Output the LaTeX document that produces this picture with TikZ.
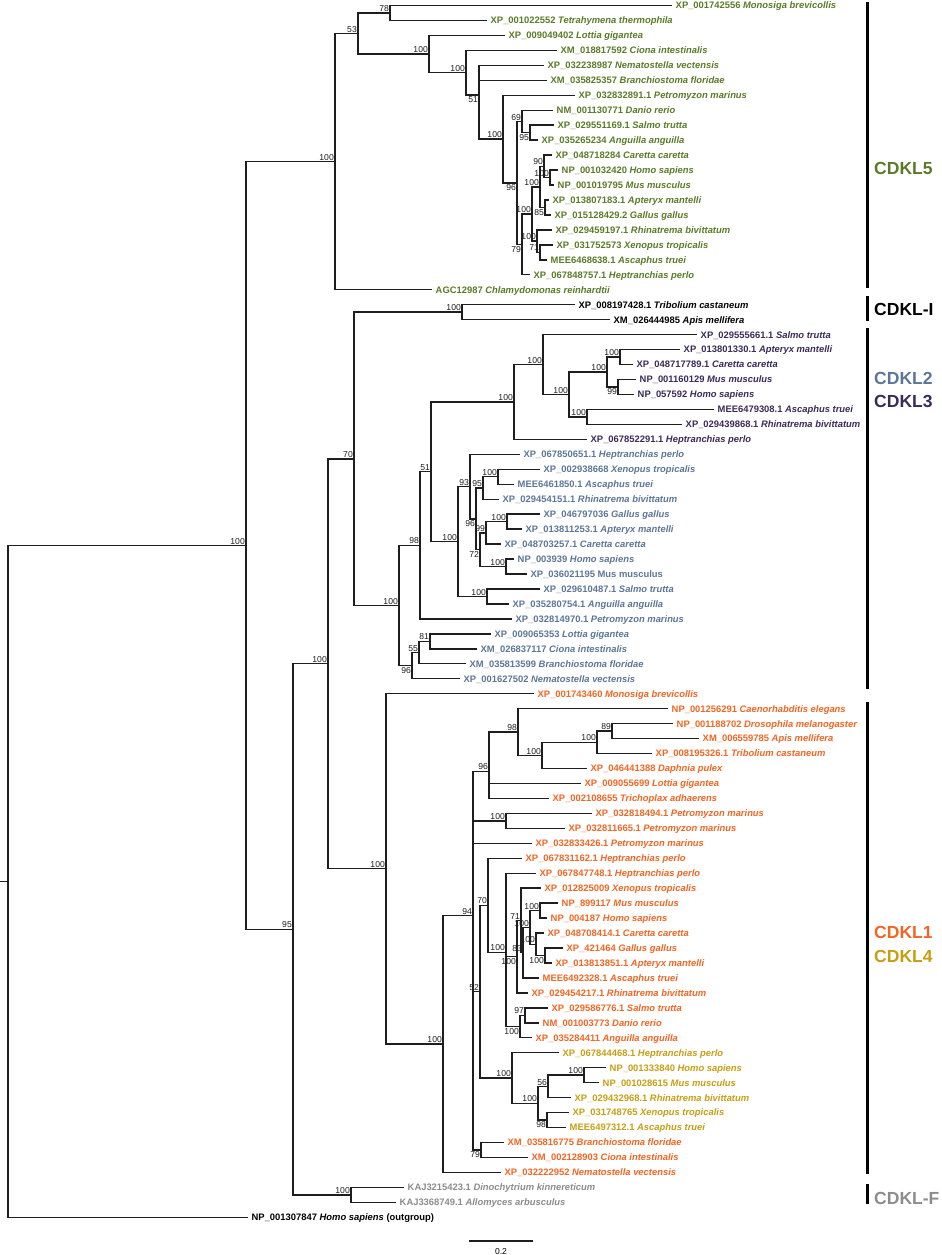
\documentclass[tikz,border=0pt]{standalone}
\usepackage{fontspec}
\setmainfont{Liberation Sans}
\definecolor{colfive}{RGB}{90,122,40}
\definecolor{colthree}{RGB}{58,42,88}
\definecolor{coltwo}{RGB}{92,118,150}
\definecolor{colone}{RGB}{242,101,34}
\definecolor{colfour}{RGB}{198,158,18}
\definecolor{colF}{RGB}{140,140,140}
\definecolor{branch}{RGB}{30,30,30}
\begin{document}
\begin{tikzpicture}[x=1pt, y=-14.96pt,
    br/.style={draw=branch, line width=1.4pt, line cap=rect},
    leaf/.style={anchor=west, inner xsep=4.5pt, inner ysep=0pt, text height=6.8pt, text depth=0pt,
      font=\fontsize{9.4}{10}\selectfont\bfseries},
    l5/.style={leaf, text=colfive}, lI/.style={leaf, text=black},
    l3/.style={leaf, text=colthree}, l2/.style={leaf, text=coltwo},
    l1/.style={leaf, text=colone}, l4/.style={leaf, text=colfour},
    lF/.style={leaf, text=colF}, lO/.style={leaf, text=black},
    bsa/.style={anchor=south east, inner xsep=1pt, inner ysep=1.2pt, text height=6.2pt, text depth=0pt,
      font=\fontsize{8.6}{9}\selectfont, text=branch},
    bsb/.style={bsa, anchor=north east},
    famb/.style={draw=black, line width=3pt},
    fam/.style={anchor=west, inner sep=0pt, text height=12.6pt, text depth=0pt,
      font=\fontsize{17.5}{18}\selectfont\bfseries}]
\useasboundingbox (0,-0.3676) rectangle (941,83.52);

% leaves, one row each
% CDKL5
\node[l5] (r0) at (671,0) {XP\_001742556 \textit{Monosiga brevicollis}};
\node[l5] (r1) at (486,1) {XP\_001022552 \textit{Tetrahymena thermophila}};
\node[l5] (r2) at (504,2) {XP\_009049402 \textit{Lottia gigantea}};
\node[l5] (r3) at (556,3) {XM\_018817592 \textit{Ciona intestinalis}};
\node[l5] (r4) at (543,4) {XP\_032238987 \textit{Nematostella vectensis}};
\node[l5] (r5) at (546,5) {XM\_035825357 \textit{Branchiostoma floridae}};
\node[l5] (r6) at (574,6) {XP\_032832891.1 \textit{Petromyzon marinus}};
\node[l5] (r7) at (552,7) {NM\_001130771 \textit{Danio rerio}};
\node[l5] (r8) at (553,8) {XP\_029551169.1 \textit{Salmo trutta}};
\node[l5] (r9) at (537,9) {XP\_035265234 \textit{Anguilla anguilla}};
\node[l5] (r10) at (551,10) {XP\_048718284 \textit{Caretta caretta}};
\node[l5] (r11) at (557,11) {NP\_001032420 \textit{Homo sapiens}};
\node[l5] (r12) at (553,12) {NP\_001019795 \textit{Mus musculus}};
\node[l5] (r13) at (548,13) {XP\_013807183.1 \textit{Apteryx mantelli}};
\node[l5] (r14) at (550,14) {XP\_015128429.2 \textit{Gallus gallus}};
\node[l5] (r15) at (551,15) {XP\_029459197.1 \textit{Rhinatrema bivittatum}};
\node[l5] (r16) at (552,16) {XP\_031752573 \textit{Xenopus tropicalis}};
\node[l5] (r17) at (546,17) {MEE6468638.1 \textit{Ascaphus truei}};
\node[l5] (r18) at (529,18) {XP\_067848757.1 \textit{Heptranchias perlo}};
\node[l5] (r19) at (431,19) {AGC12987 \textit{Chlamydomonas reinhardtii}};
% CDKL-I
\node[lI] (r20) at (574,20) {XP\_008197428.1 \textit{Tribolium castaneum}};
\node[lI] (r21) at (609,21) {XM\_026444985 \textit{Apis mellifera}};
% CDKL3
\node[l3] (r22) at (696,22) {XP\_029555661.1 \textit{Salmo trutta}};
\node[l3] (r23) at (679,23) {XP\_013801330.1 \textit{Apteryx mantelli}};
\node[l3] (r24) at (632,24) {XP\_048717789.1 \textit{Caretta caretta}};
\node[l3] (r25) at (635,25) {NP\_001160129 \textit{Mus musculus}};
\node[l3] (r26) at (633,26) {NP\_057592 \textit{Homo sapiens}};
\node[l3] (r27) at (713,27) {MEE6479308.1 \textit{Ascaphus truei}};
\node[l3] (r28) at (681,28) {XP\_029439868.1 \textit{Rhinatrema bivittatum}};
\node[l3] (r29) at (586,29) {XP\_067852291.1 \textit{Heptranchias perlo}};
% CDKL2
\node[l2] (r30) at (519,30) {XP\_067850651.1 \textit{Heptranchias perlo}};
\node[l2] (r31) at (539,31) {XP\_002938668 \textit{Xenopus tropicalis}};
\node[l2] (r32) at (513,32) {MEE6461850.1 \textit{Ascaphus truei}};
\node[l2] (r33) at (498,33) {XP\_029454151.1 \textit{Rhinatrema bivittatum}};
\node[l2] (r34) at (539,34) {XP\_046797036 \textit{Gallus gallus}};
\node[l2] (r35) at (521,35) {XP\_013811253.1 \textit{Apteryx mantelli}};
\node[l2] (r36) at (500,36) {XP\_048703257.1 \textit{Caretta caretta}};
\node[l2] (r37) at (513,37) {NP\_003939 \textit{Homo sapiens}};
\node[l2] (r38) at (526,38) {XP\_036021195 Mus musculus};
\node[l2] (r39) at (539,39) {XP\_029610487.1 \textit{Salmo trutta}};
\node[l2] (r40) at (508,40) {XP\_035280754.1 \textit{Anguilla anguilla}};
\node[l2] (r41) at (511,41) {XP\_032814970.1 \textit{Petromyzon marinus}};
\node[l2] (r42) at (490,42) {XP\_009065353 \textit{Lottia gigantea}};
\node[l2] (r43) at (476,43) {XM\_026837117 \textit{Ciona intestinalis}};
\node[l2] (r44) at (465,44) {XM\_035813599 \textit{Branchiostoma floridae}};
\node[l2] (r45) at (459,45) {XP\_001627502 \textit{Nematostella vectensis}};
% CDKL1 and CDKL4
\node[l1] (r46) at (533,46) {XP\_001743460 \textit{Monosiga brevicollis}};
\node[l1] (r47) at (667,47) {NP\_001256291 \textit{Caenorhabditis elegans}};
\node[l1] (r48) at (672,48) {NP\_001188702 \textit{Drosophila melanogaster}};
\node[l1] (r49) at (698,49) {XM\_006559785 \textit{Apis mellifera}};
\node[l1] (r50) at (651,50) {XP\_008195326.1 \textit{Tribolium castaneum}};
\node[l1] (r51) at (586,51) {XP\_046441388 \textit{Daphnia pulex}};
\node[l1] (r52) at (580,52) {XP\_009055699 \textit{Lottia gigantea}};
\node[l1] (r53) at (548,53) {XP\_002108655 \textit{Trichoplax adhaerens}};
\node[l1] (r54) at (591,54) {XP\_032818494.1 \textit{Petromyzon marinus}};
\node[l1] (r55) at (564,55) {XP\_032811665.1 \textit{Petromyzon marinus}};
\node[l1] (r56) at (531,56) {XP\_032833426.1 \textit{Petromyzon marinus}};
\node[l1] (r57) at (521,57) {XP\_067831162.1 \textit{Heptranchias perlo}};
\node[l1] (r58) at (535,58) {XP\_067847748.1 \textit{Heptranchias perlo}};
\node[l1] (r59) at (540,59) {XP\_012825009 \textit{Xenopus tropicalis}};
\node[l1] (r60) at (557,60) {NP\_899117 \textit{Mus musculus}};
\node[l1] (r61) at (546,61) {NP\_004187 \textit{Homo sapiens}};
\node[l1] (r62) at (543,62) {XP\_048708414.1 \textit{Caretta caretta}};
\node[l1] (r63) at (562,63) {XP\_421464 \textit{Gallus gallus}};
\node[l1] (r64) at (551,64) {XP\_013813851.1 \textit{Apteryx mantelli}};
\node[l1] (r65) at (538,65) {MEE6492328.1 \textit{Ascaphus truei}};
\node[l1] (r66) at (527,66) {XP\_029454217.1 \textit{Rhinatrema bivittatum}};
\node[l1] (r67) at (547,67) {XP\_029586776.1 \textit{Salmo trutta}};
\node[l1] (r68) at (538,68) {NM\_001003773 \textit{Danio rerio}};
\node[l1] (r69) at (531,69) {XP\_035284411 \textit{Anguilla anguilla}};
\node[l4] (r70) at (558,70) {XP\_067844468.1 \textit{Heptranchias perlo}};
\node[l4] (r71) at (605,71) {NP\_001333840 \textit{Homo sapiens}};
\node[l4] (r72) at (598,72) {NP\_001028615 \textit{Mus musculus}};
\node[l4] (r73) at (570,73) {XP\_029432968.1 \textit{Rhinatrema bivittatum}};
\node[l4] (r74) at (568,74) {XP\_031748765 \textit{Xenopus tropicalis}};
\node[l4] (r75) at (565,75) {MEE6497312.1 \textit{Ascaphus truei}};
\node[l1] (r76) at (503,76) {XM\_035816775 \textit{Branchiostoma floridae}};
\node[l1] (r77) at (527,77) {XM\_002128903 \textit{Ciona intestinalis}};
\node[l1] (r78) at (500,78) {XP\_032222952 \textit{Nematostella vectensis}};
% CDKL-F and outgroup
\node[lF] (r79) at (403,79) {KAJ3215423.1 \textit{Dinochytrium kinnereticum}};
\node[lF] (r80) at (395,80) {KAJ3368749.1 \textit{Allomyces arbusculus}};
\node[lO] (r81) at (247,81) {NP\_001307847 \textit{Homo sapiens} (outgroup)};

% inner nodes: CDKL5
\coordinate (c5) at (335,10.44);
\coordinate (c5a) at (358,1.87);
\coordinate (c5b) at (390,0.5);
\coordinate (c5c) at (429,3.245);
\coordinate (c5d) at (466,4.49);
\coordinate (c5e) at (479,5.98);
\coordinate (c5f) at (503,8.93);
\coordinate (c5g) at (517,11.86);
\coordinate (c5h) at (522,7.75);
\coordinate (c5i) at (530,8.5);
\coordinate (c5j) at (522,15.97);
\coordinate (c5k) at (532,13.94);
\coordinate (c5l) at (540,12.125);
\coordinate (c5m) at (544,10.75);
\coordinate (c5n) at (550,11.5);
\coordinate (c5o) at (545,13.5);
\coordinate (c5p) at (537,15.75);
\coordinate (c5q) at (540,16.5);
% CDKL-I, CDKL3, CDKL2
\coordinate (ci) at (462,20.5);
\coordinate (e) at (354,30.30);
\coordinate (f) at (399,40.10);
\coordinate (g98) at (420,36.08);
\coordinate (g51) at (431,31.165);
\coordinate (c3) at (514,26.5);
\coordinate (c3a) at (543,24.0);
\coordinate (c3b) at (569,26.0);
\coordinate (c3c) at (607,24.5);
\coordinate (c3d) at (620,23.5);
\coordinate (c3e) at (618,25.5);
\coordinate (c3f) at (587,27.5);
\coordinate (c2) at (458,35.83);
\coordinate (c2a) at (470,32.156);
\coordinate (c2b) at (476,34.31);
\coordinate (c2c) at (483,32.25);
\coordinate (c2d) at (498,31.5);
\coordinate (c2e) at (480,36.375);
\coordinate (c2f) at (486,35.25);
\coordinate (c2g) at (507,34.5);
\coordinate (c2h) at (506,37.5);
\coordinate (c2i) at (487,39.5);
\coordinate (h96) at (412,44.125);
\coordinate (h55) at (419,43.25);
\coordinate (h81) at (430,42.5);
% CDKL1, CDKL4
\coordinate (k1) at (386,57.70);
\coordinate (k1a) at (443,69.41);
\coordinate (k1b) at (473,60.82);
\coordinate (k1c) at (489,51.19);
\coordinate (k1d) at (518,48.56);
\coordinate (k1e) at (542,50.125);
\coordinate (k1f) at (597,49.25);
\coordinate (k1g) at (612,48.5);
\coordinate (k1h) at (506,54.5);
\coordinate (k1i) at (480,65.91);
\coordinate (k1j) at (488,60.14);
\coordinate (k1k) at (506,63.28);
\coordinate (k1l) at (517,63.58);
\coordinate (k1m) at (521,61.16);
\coordinate (k1n) at (523,63.31);
\coordinate (k1o) at (530,61.625);
\coordinate (k1p) at (540,60.5);
\coordinate (k1q) at (536,62.75);
\coordinate (k1r) at (545,63.5);
\coordinate (k1s) at (520,68.25);
\coordinate (k1t) at (525,67.5);
\coordinate (k1u) at (481,76.5);
\coordinate (k4) at (512,71.69);
\coordinate (k4a) at (538,73.375);
\coordinate (k4b) at (548,72.25);
\coordinate (k4c) at (584,71.5);
\coordinate (k4d) at (547,74.5);
% backbone
\coordinate (a) at (246,36.10);
\coordinate (c) at (293,61.75);
\coordinate (d) at (328,44.0);
\coordinate (cf) at (351,79.5);
\coordinate (root) at (8,58.55);
\coordinate (stub) at (0,58.55);

% branches
\draw[br] (stub) -- (root);
\draw[br] (root) |- (a) (root) |- (r81.west);
\draw[br] (a) |- (c5) (a) |- (c);
\draw[br] (c) |- (d) (c) |- (cf);
\draw[br] (d) |- (e) (d) |- (k1);
\draw[br] (cf) |- (r79.west) (cf) |- (r80.west);

\draw[br] (c5) |- (c5a) (c5) |- (r19.west);
\draw[br] (c5a) |- (c5b) (c5a) |- (c5c);
\draw[br] (c5b) |- (r0.west) (c5b) |- (r1.west);
\draw[br] (c5c) |- (r2.west) (c5c) |- (c5d);
\draw[br] (c5d) |- (r3.west) (c5d) |- (c5e);
\draw[br] (c5e) |- (r4.west) (c5e) |- (r5.west) (c5e) |- (c5f);
\draw[br] (c5f) |- (r6.west) (c5f) |- (c5g);
\draw[br] (c5g) |- (c5h) (c5g) |- (c5j);
\draw[br] (c5h) |- (r7.west) (c5h) |- (c5i);
\draw[br] (c5i) |- (r8.west) (c5i) |- (r9.west);
\draw[br] (c5j) |- (c5k) (c5j) |- (r18.west);
\draw[br] (c5k) |- (c5l) (c5k) |- (c5p);
\draw[br] (c5l) |- (c5m) (c5l) |- (c5o);
\draw[br] (c5m) |- (r10.west) (c5m) |- (c5n);
\draw[br] (c5n) |- (r11.west) (c5n) |- (r12.west);
\draw[br] (c5o) |- (r13.west) (c5o) |- (r14.west);
\draw[br] (c5p) |- (r15.west) (c5p) |- (c5q);
\draw[br] (c5q) |- (r16.west) (c5q) |- (r17.west);

\draw[br] (e) |- (ci) (e) |- (f);
\draw[br] (ci) |- (r20.west) (ci) |- (r21.west);
\draw[br] (f) |- (g98) (f) |- (h96);
\draw[br] (g98) |- (g51) (g98) |- (r41.west);
\draw[br] (g51) |- (c3) (g51) |- (c2);
\draw[br] (c3) |- (c3a) (c3) |- (r29.west);
\draw[br] (c3a) |- (r22.west) (c3a) |- (c3b);
\draw[br] (c3b) |- (c3c) (c3b) |- (c3f);
\draw[br] (c3c) |- (c3d) (c3c) |- (c3e);
\draw[br] (c3d) |- (r23.west) (c3d) |- (r24.west);
\draw[br] (c3e) |- (r25.west) (c3e) |- (r26.west);
\draw[br] (c3f) |- (r27.west) (c3f) |- (r28.west);
\draw[br] (c2) |- (c2a) (c2) |- (c2i);
\draw[br] (c2a) |- (r30.west) (c2a) |- (c2b);
\draw[br] (c2b) |- (c2c) (c2b) |- (c2e);
\draw[br] (c2c) |- (c2d) (c2c) |- (r33.west);
\draw[br] (c2d) |- (r31.west) (c2d) |- (r32.west);
\draw[br] (c2e) |- (c2f) (c2e) |- (c2h);
\draw[br] (c2f) |- (c2g) (c2f) |- (r36.west);
\draw[br] (c2g) |- (r34.west) (c2g) |- (r35.west);
\draw[br] (c2h) |- (r37.west) (c2h) |- (r38.west);
\draw[br] (c2i) |- (r39.west) (c2i) |- (r40.west);
\draw[br] (h96) |- (h55) (h96) |- (r45.west);
\draw[br] (h55) |- (h81) (h55) |- (r44.west);
\draw[br] (h81) |- (r42.west) (h81) |- (r43.west);

\draw[br] (k1) |- (r46.west) (k1) |- (k1a);
\draw[br] (k1a) |- (k1b) (k1a) |- (r78.west);
\draw[br] (k1b) |- (k1c) (k1b) |- (k1h) (k1b) |- (r56.west) (k1b) |- (k1i) (k1b) |- (k1u);
\draw[br] (k1c) |- (k1d) (k1c) |- (r52.west) (k1c) |- (r53.west);
\draw[br] (k1d) |- (r47.west) (k1d) |- (k1e);
\draw[br] (k1e) |- (k1f) (k1e) |- (r51.west);
\draw[br] (k1f) |- (k1g) (k1f) |- (r50.west);
\draw[br] (k1g) |- (r48.west) (k1g) |- (r49.west);
\draw[br] (k1h) |- (r54.west) (k1h) |- (r55.west);
\draw[br] (k1i) |- (k1j) (k1i) |- (k4);
\draw[br] (k1j) |- (r57.west) (k1j) |- (k1k);
\draw[br] (k1k) |- (r58.west) (k1k) |- (k1l) (k1k) |- (k1s);
\draw[br] (k1l) |- (k1m) (k1l) |- (r66.west);
\draw[br] (k1m) |- (r59.west) (k1m) |- (k1n);
\draw[br] (k1n) |- (k1o) (k1n) |- (r65.west);
\draw[br] (k1o) |- (k1p) (k1o) |- (k1q);
\draw[br] (k1p) |- (r60.west) (k1p) |- (r61.west);
\draw[br] (k1q) |- (r62.west) (k1q) |- (k1r);
\draw[br] (k1r) |- (r63.west) (k1r) |- (r64.west);
\draw[br] (k1s) |- (k1t) (k1s) |- (r69.west);
\draw[br] (k1t) |- (r67.west) (k1t) |- (r68.west);
\draw[br] (k4) |- (r70.west) (k4) |- (k4a);
\draw[br] (k4a) |- (k4b) (k4a) |- (k4d);
\draw[br] (k4b) |- (k4c) (k4b) |- (r73.west);
\draw[br] (k4c) |- (r71.west) (k4c) |- (r72.west);
\draw[br] (k4d) |- (r74.west) (k4d) |- (r75.west);
\draw[br] (k1u) |- (r76.west) (k1u) |- (r77.west);

% bootstrap values
\node[bsa] (sa) at (a) {100};
\node[bsa] (sc) at (c) {95};
\node[bsa] (sd) at (d) {100};
\node[bsa] (scf) at (cf) {100};
\node[bsa] (s5) at (c5) {100};
\node[bsa] (s5a) at (c5a) {53};
\node[bsa] (s5b) at (c5b) {78};
\node[bsa] (s5c) at (c5c) {100};
\node[bsa] (s5d) at (c5d) {100};
\node[bsb] (s5e) at (c5e) {51};
\node[bsa] (s5f) at (c5f) {100};
\node[bsb] (s5g) at (c5g) {96};
\node[bsa] (s5h) at (c5h) {69};
\node[bsb] (s5i) at (c5i) {95};
\node[bsb] (s5j) at (c5j) {79};
\node[bsa] (s5k) at (c5k) {100};
\node[bsa] (s5l) at (c5l) {100};
\node[bsa] (s5m) at (c5m) {90};
\node[bsa] (s5n) at (c5n) {100};
\node[bsb] (s5o) at (c5o) {85};
\node[bsa] (s5p) at (c5p) {100};
\node[bsa] (s5q) at (c5q) {71};
\node[bsa] (si) at (ci) {100};
\node[bsa] (se) at (e) {70};
\node[bsa] (sf) at (f) {100};
\node[bsa] (sg98) at (g98) {98};
\node[bsa] (sg51) at (g51) {51};
\node[bsa] (s3) at (c3) {100};
\node[bsa] (s3a) at (c3a) {100};
\node[bsa] (s3b) at (c3b) {100};
\node[bsa] (s3c) at (c3c) {100};
\node[bsa] (s3d) at (c3d) {100};
\node[bsb] (s3e) at (c3e) {99};
\node[bsa] (s3f) at (c3f) {100};
\node[bsa] (s2) at (c2) {100};
\node[bsa] (s2a) at (c2a) {93};
\node[bsb] (s2b) at (c2b) {96};
\node[bsa] (s2c) at (c2c) {95};
\node[bsa] (s2d) at (c2d) {100};
\node[bsb] (s2e) at (c2e) {72};
\node[bsa] (s2f) at (c2f) {99};
\node[bsa] (s2g) at (c2g) {100};
\node[bsa] (s2h) at (c2h) {100};
\node[bsa] (s2i) at (c2i) {100};
\node[bsb] (sh96) at (h96) {96};
\node[bsa] (sh55) at (h55) {55};
\node[bsa] (sh81) at (h81) {81};
\node[bsa] (s1) at (k1) {100};
\node[bsa] (s1a) at (k1a) {100};
\node[bsa] (s1b) at (k1b) {94};
\node[bsa] (s1c) at (k1c) {96};
\node[bsa] (s1d) at (k1d) {98};
\node[bsa] (s1e) at (k1e) {100};
\node[bsa] (s1f) at (k1f) {100};
\node[bsa] (s1g) at (k1g) {89};
\node[bsa] (s1h) at (k1h) {100};
\node[bsa] (s1i) at (k1i) {52};
\node[bsa] (s1j) at (k1j) {70};
\node[bsa] (s1k) at (k1k) {100};
\node[bsb] (s1l) at (k1l) {100};
\node[bsa] (s1m) at (k1m) {71};
\node[bsa] (s1n) at (k1n) {83};
\node[bsa] (s1o) at (k1o) {100};
\node[bsa] (s1p) at (k1p) {100};
\node[bsa] (s1q) at (k1q) {100};
\node[bsb] (s1r) at (k1r) {100};
\node[bsb] (s1s) at (k1s) {100};
\node[bsa] (s1t) at (k1t) {97};
\node[bsb] (s1u) at (k1u) {79};
\node[bsa] (s4) at (k4) {100};
\node[bsa] (s4a) at (k4a) {100};
\node[bsa] (s4b) at (k4b) {56};
\node[bsa] (s4c) at (k4c) {100};
\node[bsb] (s4d) at (k4d) {98};

% family bars and names
\draw[famb] (867,-0.23) -- (867,18.88);
\draw[famb] (867,19.42) -- (867,21.09);
\draw[famb] (867,21.56) -- (867,45.69);
\draw[famb] (867,46.56) -- (867,78.11);
\draw[famb] (867,78.78) -- (867,80.11);
\node[fam, text=colfive] (t5) at (874,10.86) {CDKL5};
\node[fam, text=black] (tI) at (874,20.29) {CDKL-I};
\node[fam, text=coltwo] (t2) at (874,24.9) {CDKL2};
\node[fam, text=colthree] (t3) at (874,26.44) {CDKL3};
\node[fam, text=colone] (t1) at (874,61.93) {CDKL1};
\node[fam, text=colfour] (t4) at (874,63.54) {CDKL4};
\node[fam, text=colF] (tF) at (874,79.71) {CDKL-F};

% scale bar
\coordinate (sb0) at (469,82.59);
\coordinate (sb1) at (533,82.59);
\draw[br, line cap=butt] (sb0) -- (sb1);
\node[font=\fontsize{8.6}{9}\selectfont, inner sep=0pt] (sbt) at (501,83.26) {0.2};
\end{tikzpicture}
\end{document}
